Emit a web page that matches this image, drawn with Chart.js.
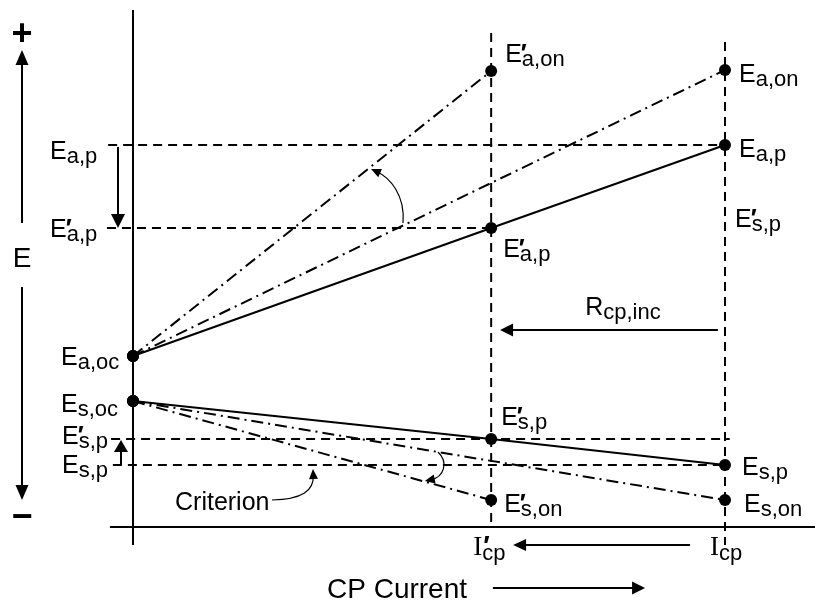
<!DOCTYPE html>
<html><head><meta charset="utf-8">
<script src="https://cdn.jsdelivr.net/npm/chart.js@4"></script>
<style>html,body{margin:0;padding:0;background:#fff}canvas{display:block}</style>
</head><body>
<canvas id="c" width="815" height="603"></canvas>
<script>
// ---- Data (schematic units) ----
// CP current levels: axis origin, reduced current I'cp, initial current Icp
const currentLevels = [0, 6.05, 10];
const currentLabels = ["I", "I"];              // I'cp, Icp (serif I, sub "cp")
// Polarized potentials (solid lines) at currentLevels
const anodePolarized = [17.1, 29.9, 38.2];     // Ea,oc, E'a,p, Ea,p
const steelPolarized = [12.6, 8.8, 6.2];       // Es,oc, E's,p, Es,p
// "On" potentials (dash-dot lines) at I'cp and Icp
const anodeOn = [45.6, 45.7];                  // E'a,on, Ea,on
const steelOn = [2.7, 2.7];                    // E's,on, Es,on
// Axis ranges
const currentRange = [-2.2466, 11.5203];
const potentialRange = [-7.6, 52.7];
// Texts
const axisTitleY = "E";
const axisTitleX = "CP Current";
const criterionText = "Criterion";
const resistanceText = ["R", "cp,inc"];

const SANS = '"Liberation Sans", Arial, Helvetica, sans-serif';
const SERIF = '"Liberation Serif", "Times New Roman", serif';
const DASH = [9, 6];
const DASHDOT = [12, 5, 2, 5];

function seg(points, dash, width, radius, order) {
  return { data: points, showLine: true, borderColor: '#000', backgroundColor: '#000',
    borderWidth: width, borderDash: dash, pointRadius: radius, pointHoverRadius: radius,
    pointBackgroundColor: '#000', pointBorderWidth: 0, tension: 0, order: order, clip: false };
}
const Ip = currentLevels[1], Ic = currentLevels[2];
const datasets = [
  seg(currentLevels.map((x, i) => ({ x, y: anodePolarized[i] })), [], 2, 6, 1),
  seg(currentLevels.map((x, i) => ({ x, y: steelPolarized[i] })), [], 2, 6, 1),
  seg([{ x: 0, y: anodePolarized[0] }, { x: Ip, y: anodeOn[0] }], DASHDOT, 2, 6, 2),
  seg([{ x: 0, y: anodePolarized[0] }, { x: Ic, y: anodeOn[1] }], DASHDOT, 2, 6, 2),
  seg([{ x: 0, y: steelPolarized[0] }, { x: Ip, y: steelOn[0] }], DASHDOT, 2, 6, 2),
  seg([{ x: 0, y: steelPolarized[0] }, { x: Ic, y: steelOn[1] }], DASHDOT, 2, 6, 2),
  // horizontal reference levels
  seg([{ x: -0.42, y: anodePolarized[2] }, { x: Ic, y: anodePolarized[2] }], DASH, 2, 0, 3),
  seg([{ x: -0.44, y: anodePolarized[1] }, { x: Ip, y: anodePolarized[1] }], DASH, 2, 0, 3),
  seg([{ x: -0.37, y: steelPolarized[1] }, { x: Ic + 0.08, y: steelPolarized[1] }], DASH, 2, 0, 3),
  seg([{ x: -0.34, y: steelPolarized[2] }, { x: Ic, y: steelPolarized[2] }], DASH, 2, 0, 3),
  // vertical current levels
  seg([{ x: Ip, y: 49.4 }, { x: Ip, y: 0 }], DASH, 2, 0, 3),
  seg([{ x: Ic, y: 48.5 }, { x: Ic, y: -1.8 }], DASH, 2, 0, 3),
  // axes
  seg([{ x: 0, y: potentialRange[1] - 1 }, { x: 0, y: -1.8 }], [], 2, 0, 4),
  seg([{ x: -0.39, y: 0 }, { x: currentRange[1], y: 0 }], [], 2, 0, 4),
];

const diagram = {
  id: 'diagram',
  afterDatasetsDraw(chart) {
    const ctx = chart.ctx, xs = chart.scales.x, ys = chart.scales.y;
    const X = v => xs.getPixelForValue(v), Y = v => ys.getPixelForValue(v);
    ctx.save();
    ctx.fillStyle = '#000'; ctx.strokeStyle = '#000'; ctx.setLineDash([]);
    function head(x, y, a, hl, hw) {
      const c = Math.cos(a), s = Math.sin(a);
      ctx.beginPath(); ctx.moveTo(x, y);
      ctx.lineTo(x - c * hl - s * hw, y - s * hl + c * hw);
      ctx.lineTo(x - c * hl + s * hw, y - s * hl - c * hw);
      ctx.closePath(); ctx.fill();
    }
    function arrow(x1, y1, x2, y2, lw, hl, hw) {
      const a = Math.atan2(y2 - y1, x2 - x1);
      ctx.lineWidth = lw;
      ctx.beginPath(); ctx.moveTo(x1, y1);
      ctx.lineTo(x2 - Math.cos(a) * hl * 0.8, y2 - Math.sin(a) * hl * 0.8); ctx.stroke();
      head(x2, y2, a, hl, hw);
    }
    function curve(p0, p1, p2, p3) {
      ctx.lineWidth = 1.2;
      const a = Math.atan2(p3[1] - p2[1], p3[0] - p2[0]);
      ctx.beginPath(); ctx.moveTo(p0[0], p0[1]);
      ctx.bezierCurveTo(p1[0], p1[1], p2[0], p2[1], p3[0] - Math.cos(a) * 6, p3[1] - Math.sin(a) * 6);
      ctx.stroke();
      head(p3[0], p3[1], a, 10, 4.5);
    }
    function label(x, y, main, sub, prime, o) {
      o = o || {};
      const ms = o.ms || 25, ss = o.ss || 22;
      ctx.textAlign = 'left'; ctx.textBaseline = 'alphabetic';
      ctx.font = ms + 'px ' + (o.mf || SANS);
      ctx.fillText(main, x, y);
      const w = ctx.measureText(main).width;
      if (prime) { ctx.font = 'bold ' + ms + 'px ' + SANS; ctx.fillText('\u2032', x + w + (o.px || -1), y + (o.py || 0)); }
      if (sub) { ctx.font = ss + 'px ' + SANS; ctx.fillText(sub, x + w + (o.sx || 0), y + (o.sy || 4)); }
    }
    const at = (xv, yv, dx, dy, main, sub, prime, o) => label(X(xv) + dx, Y(yv) + dy, main, sub, prime, o);

    // point labels
    at(0, anodePolarized[0], -72, 9, 'E', 'a,oc', false);
    at(0, steelPolarized[0], -72, 11, 'E', 's,oc', false);
    at(Ip, anodeOn[0], 14, -9, 'E', 'a,on', true);
    at(Ic, anodeOn[1], 14, 12, 'E', 'a,on', false);
    at(Ic, anodePolarized[2], 14, 12, 'E', 'a,p', false);
    at(Ip, anodePolarized[1], 12, 29, 'E', 'a,p', true);
    at(Ip, steelPolarized[1], 10, -14, 'E', 's,p', true);
    at(Ic, steelPolarized[2], 17, 10, 'E', 's,p', false);
    at(Ip, steelOn[0], 13, 12, 'E', 's,on', true);
    at(Ic, steelOn[1], 19, 12, 'E', 's,on', false);
    at(Ic, anodePolarized[1], 10, -1, 'E', 's,p', true);
    // level labels on the left
    at(0, anodePolarized[2], -83, 14, 'E', 'a,p', false);
    at(0, anodePolarized[1], -83, 9, 'E', 'a,p', true);
    at(0, steelPolarized[1], -71, 5, 'E', 's,p', true);
    at(0, steelPolarized[2], -71, 8, 'E', 's,p', false);
    // current labels
    at(Ip, 0, -18, 28, currentLabels[0], 'cp', true, { mf: SERIF, ms: 27, sy: 5, sx: 0, px: 1 });
    at(Ic, 0, -15, 28, currentLabels[1], 'cp', false, { mf: SERIF, ms: 27, sy: 5, sx: 0 });

    // left potential axis arrows and signs
    const ax = -1.875;
    arrow(X(ax), Y(30.4), X(ax), Y(47.7), 2, 15, 6.5);
    arrow(X(ax), Y(24), X(ax), Y(2.7), 2, 15, 6.5);
    ctx.textAlign = 'center'; ctx.textBaseline = 'alphabetic';
    ctx.font = '28px ' + SANS; ctx.fillText(axisTitleY, X(ax), Y(26));
    ctx.font = 'bold 36px ' + SANS; ctx.fillText('+', X(ax), Y(49.4) + 12);
    ctx.fillText('\u2212', X(ax), Y(1.1) + 12);

    // level shift arrows
    arrow(X(-0.253), Y(anodePolarized[2] - 0.2), X(-0.253), Y(anodePolarized[1]), 2, 14, 7);
    arrow(X(-0.203), Y(steelPolarized[2] - 0.1), X(-0.203), Y(steelPolarized[1] - 0.1), 2, 12, 7);

    // resistance increase arrow
    const rY = 19.7;
    arrow(X(Ic - 0.12), Y(rY), X(Ip + 0.15), Y(rY), 2, 13, 6.5);
    label(X(Ip) + 94, Y(rY) - 15, resistanceText[0], resistanceText[1], false);

    // current decrease arrow
    arrow(X(9.41), Y(-1.8), X(6.42), Y(-1.8), 2, 13, 6);
    // CP current axis title + arrow
    ctx.textAlign = 'left'; ctx.font = '28px ' + SANS;
    ctx.fillText(axisTitleX, X(0) + 194, Y(0) + 71);
    arrow(X(6.08), Y(-6.1), X(8.65), Y(-6.1), 2, 13, 6.5);

    // criterion label and curved arrows
    ctx.font = '25px ' + SANS; ctx.fillText(criterionText, X(0) + 42, Y(0) - 17);
    curve([X(2.348), Y(2.7)], [X(2.85), Y(2.75)], [X(3.06), Y(3.6)], [X(3.04), Y(5.8)]);
    curve([X(4.561), Y(30.4)], [X(4.6), Y(33.2)], [X(4.34), Y(34.95)], [X(4.02), Y(35.8)]);
    curve([X(5.152), Y(7.5)], [X(5.33), Y(6.5)], [X(5.26), Y(5.0)], [X(4.93), Y(4.6)]);
    ctx.restore();
  }
};

new Chart(document.getElementById('c'), {
  type: 'scatter',
  data: { datasets },
  options: {
    responsive: false, animation: false, devicePixelRatio: 1, events: [],
    layout: { padding: 0, autoPadding: false },
    plugins: { legend: { display: false }, tooltip: { enabled: false } },
    scales: {
      x: { type: 'linear', display: false, min: currentRange[0], max: currentRange[1] },
      y: { type: 'linear', display: false, min: potentialRange[0], max: potentialRange[1] }
    }
  },
  plugins: [diagram]
});
</script>
</body></html>
